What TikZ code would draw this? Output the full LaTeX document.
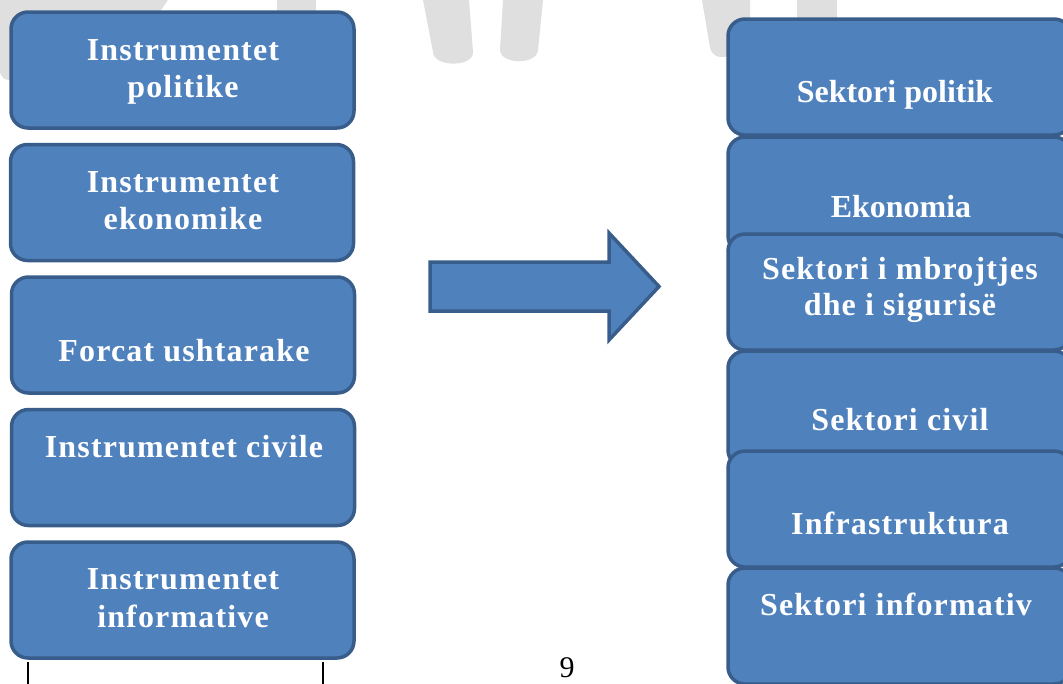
\documentclass[tikz,border=0pt]{standalone}
\usepackage{fontspec}
\setmainfont{Liberation Serif}
\newfontfamily\wideFont[LetterSpace=3.6]{Liberation Serif}
\newfontfamily\tightFont{Liberation Serif}
\definecolor{boxfill}{HTML}{4F81BD}
\definecolor{boxline}{HTML}{385D8A}
\definecolor{wm}{HTML}{DFDFDF}
\tikzset{
  box/.style={draw=boxline, fill=boxfill, line width=3.5pt, rounded corners=17pt,
    minimum width=343pt, minimum height=116pt, inner sep=0pt},
  lbl/.style={text=white, font=\wideFont\bfseries\fontsize{32}{37}\selectfont, anchor=base, inner sep=0pt},
  lbltight/.style={text=white, font=\tightFont\bfseries\fontsize{32}{37}\selectfont, anchor=base, inner sep=0pt},
  wmark/.style={fill=wm, draw=none},
  bigarrow/.style={draw=boxline, fill=boxfill, line width=3.5pt, line join=miter},
  tableline/.style={draw=black, line width=1.2pt},
}
\begin{document}
\begin{tikzpicture}[x=1pt,y=-1pt]
\useasboundingbox (0,0) rectangle (1063,683);
\clip (0,0) rectangle (1063,683);
% watermark fragments
\fill[wmark] (0,0) -- (168,0) -- (120,70) -- (15,80) .. controls (5,81) and (0,78) .. (0,70) -- cycle;
\fill[wmark] (277,0) -- (316,0) -- (316,20) -- (277,20) -- cycle;
\fill[wmark] (423,0) -- (469,0) -- (473,52) .. controls (474,67) and (434,68) .. (433,52) -- cycle;
\fill[wmark] (503,0) -- (543,0) -- (538,50) .. controls (537,65) and (501,65) .. (500,50) -- cycle;
\fill[wmark] (702,0) -- (750,0) -- (750,55) -- (722,57) .. controls (712,57) and (710,50) .. (709,42) -- cycle;
\fill[wmark] (797,0) -- (837,0) -- (837,25) -- (797,25) -- cycle;

% left column
\node[box] (L1) at (182.5,70) {};
\node[box] (L2) at (182,202.5) {};
\node[box] (L3) at (183,335) {};
\node[box] (L4) at (183,467.5) {};
\node[box] (L5) at (182.5,600) {};
\node[lbl] (L1a) at (183,60) {Instrumentet};
\node[lbl] (L1b) at (183,97) {politike};
\node[lbl] (L2a) at (183,192) {Instrumentet};
\node[lbl] (L2b) at (183,229) {ekonomike};
\node[lbl] (L3a) at (184,361) {Forcat ushtarake};
\node[lbl] (L4a) at (184,457) {Instrumentet civile};
\node[lbl] (L5a) at (183,589) {Instrumentet};
\node[lbl] (L5b) at (183,627) {informative};

% arrow
\draw[bigarrow] (430,262) -- (609,262) -- (609,233) -- (659,286.5) -- (609,340) -- (609,311) -- (430,311) -- cycle;

% right column
\node[box] (R1) at (899.5,77) {};
\node[box] (R2) at (899.5,195) {};
\node[box] (R3) at (899.5,292) {};
\node[box] (R4) at (899.5,409) {};
\node[box] (R5) at (899.5,509) {};
\node[box] (R6) at (899.5,626) {};
\node[lbltight] (R1a) at (895,102) {Sektori politik};
\node[lbltight] (R2a) at (901,217) {Ekonomia};
\node[lbl] (R3a) at (900,279) {Sektori i mbrojtjes};
\node[lbl] (R3b) at (900,315) {dhe i sigurisë};
\node[lbl] (R4a) at (900,430) {Sektori civil};
\node[lbl] (R5a) at (900,534) {Infrastruktura};
\node[lbl] (R6a) at (896,615) {Sektori informativ};

% page footer
\coordinate (t1) at (28,662);
\coordinate (t1e) at (28,690);
\coordinate (t2) at (323,662);
\coordinate (t2e) at (323,690);
\draw[tableline] (t1) -- (t1e);
\draw[tableline] (t2) -- (t2e);
\node[font=\fontsize{30}{36}\selectfont, anchor=base, inner sep=0pt] (pg) at (567,677) {9};
\end{tikzpicture}
\end{document}
